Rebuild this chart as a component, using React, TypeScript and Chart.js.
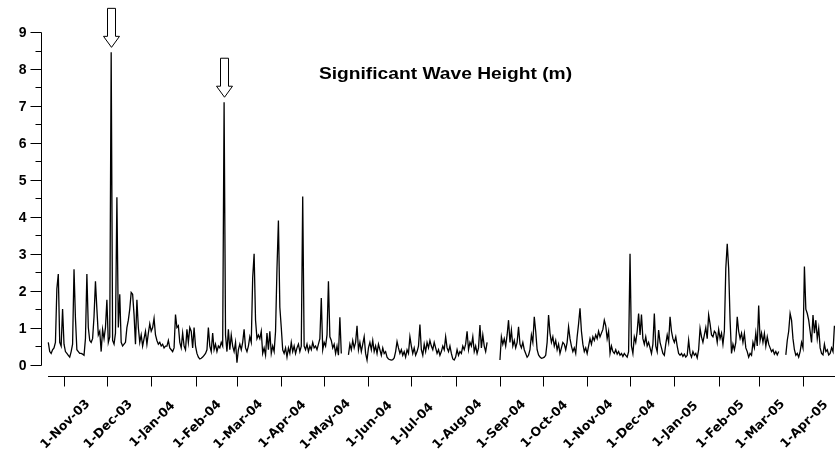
import React, { useEffect, useRef } from 'react';
import { Chart, registerables } from 'chart.js';

Chart.register(...registerables);

const TITLE = 'Significant Wave Height (m)';

const MONTH_DATES = [
  '2003-11-01', '2003-12-01', '2004-01-01', '2004-02-01', '2004-03-01', '2004-04-01',
  '2004-05-01', '2004-06-01', '2004-07-01', '2004-08-01', '2004-09-01', '2004-10-01',
  '2004-11-01', '2004-12-01', '2005-01-01', '2005-02-01', '2005-03-01', '2005-04-01',
];
const MONTH_LABELS = [
  '1-Nov-03', '1-Dec-03', '1-Jan-04', '1-Feb-04', '1-Mar-04', '1-Apr-04',
  '1-May-04', '1-Jun-04', '1-Jul-04', '1-Aug-04', '1-Sep-04', '1-Oct-04',
  '1-Nov-04', '1-Dec-04', '1-Jan-05', '1-Feb-05', '1-Mar-05', '1-Apr-05',
];
const Y_MAJOR = [0, 1, 2, 3, 4, 5, 6, 7, 8, 9];
const Y_MINOR = [0.5, 1.5, 2.5, 3.5, 4.5, 5.5, 6.5, 7.5, 8.5];

// daily significant wave height (m), one value per day from the start date
const SEG1_START = '2003-10-21';
const SEG1 = [
  0.6, 0.35, 0.3, 0.4, 0.45, 0.6, 2.05, 2.45, 0.6, 0.5,
  1.5, 0.55, 0.35, 0.3, 0.25, 0.2, 0.35, 0.55, 2.58, 1.25,
  0.4, 0.35, 0.3, 0.3, 0.28, 0.25, 0.7, 2.45, 1.0, 0.65,
  0.6, 0.7, 1.3, 2.25, 1.5, 0.8, 0.9, 0.35, 0.95, 0.7,
  1.0, 1.75, 0.6, 0.75, 8.45, 0.65, 0.55, 0.85, 4.53, 1.0,
  1.9, 0.6, 0.5, 0.55, 0.6, 1.0, 1.2, 1.5, 1.95, 1.9,
  1.35, 0.55, 1.75, 1.0, 0.6, 0.8, 0.5, 0.7, 0.9, 0.55,
  0.85, 1.1, 0.9, 1.0, 1.25, 0.8, 0.65, 0.55, 0.6, 0.5,
  0.55, 0.45, 0.5, 0.5, 0.65, 0.45, 0.4, 0.35, 0.45, 1.35,
  1.0, 1.05, 0.6, 0.45, 0.85, 0.5, 0.4, 0.95, 0.6, 1.0,
  0.9, 0.45, 1.0, 0.5, 0.3, 0.2, 0.15, 0.17, 0.2, 0.25,
  0.3, 0.4, 1.0, 0.5, 0.35, 0.85, 0.4, 0.55, 0.35, 0.5,
  0.45, 0.6, 0.5, 7.1, 0.8, 0.35, 0.95, 0.4, 0.8, 0.5,
  0.35, 0.6, 0.05, 0.4, 0.55, 0.4, 0.6, 0.95, 0.45, 0.35,
  0.5, 0.75, 0.6, 2.35, 3.0, 1.2, 0.7, 0.8, 0.7, 0.9,
  0.3, 0.45, 0.25, 0.85, 0.4, 0.9, 0.3, 0.5, 0.35, 0.9,
  2.6, 3.9, 1.55, 1.0, 0.4, 0.3, 0.45, 0.2, 0.45, 0.3,
  0.6, 0.35, 0.5, 0.3, 0.45, 0.55, 0.35, 0.5, 4.55, 0.5,
  0.4, 0.55, 0.35, 0.5, 0.4, 0.6, 0.45, 0.5, 0.4, 0.55,
  0.7, 1.8, 0.4, 0.6, 0.5, 0.8, 2.25, 0.75, 0.65, 0.45,
  0.55, 0.3, 0.5, 0.25, 1.28, 0.3,
];

const SEG2_START = '2004-05-18';
const SEG2 = [
  0.26, 0.55, 0.4, 0.65, 0.45, 0.6, 1.05, 0.4, 0.6, 0.35,
  0.55, 0.75, 0.3, 0.12, 0.45, 0.6, 0.4, 0.65, 0.35, 0.5,
  0.3, 0.55, 0.4, 0.25, 0.45, 0.3, 0.35, 0.2, 0.15, 0.13,
  0.12, 0.13, 0.18, 0.35, 0.62, 0.45, 0.3, 0.4, 0.25, 0.35,
  0.2, 0.4, 0.3, 0.75, 0.5, 0.3, 0.45, 0.25, 0.35, 0.5,
  1.08, 0.4, 0.25, 0.55, 0.35, 0.6, 0.45, 0.65, 0.5, 0.4,
  0.6, 0.45, 0.3, 0.4, 0.25, 0.35, 0.5, 0.4, 0.75, 0.45,
  0.35, 0.5, 0.3, 0.15, 0.12, 0.2, 0.4, 0.25, 0.35, 0.3,
  0.5, 0.4, 0.55, 0.9, 0.4, 0.6, 0.5, 0.75, 0.35, 0.5,
  0.3, 0.45, 1.07, 0.45, 0.8, 0.5, 0.35, 0.6,
];

const SEG3_START = '2004-09-01';
const SEG3 = [
  0.12, 0.75, 0.55, 0.7, 0.5, 0.8, 1.2, 0.6, 0.93, 0.5,
  0.65, 0.45, 0.6, 1.02, 0.55, 0.45, 0.6, 0.4, 0.3, 0.2,
  0.25, 0.4, 0.8, 0.6, 1.29, 0.9, 0.4, 0.26, 0.2, 0.17,
  0.18, 0.2, 0.25, 0.6, 1.34, 0.85, 0.6, 0.75, 0.5, 0.65,
  0.4, 0.55, 0.3, 0.45, 0.6, 0.55, 0.4, 0.6, 1.02, 0.7,
  0.5, 0.35, 0.45, 0.3, 0.75, 1.1, 1.52, 0.9, 0.55, 0.35,
  0.45, 0.3, 0.5, 0.7, 0.55, 0.75, 0.65, 0.8, 0.7, 0.9,
  0.75, 0.85, 0.95, 1.2, 1.05, 0.7, 0.9, 0.3, 0.5, 0.35,
  0.3, 0.4, 0.28, 0.35, 0.25, 0.3, 0.22, 0.3, 0.25, 0.2,
  0.35, 3.0, 0.5, 0.3, 0.75, 0.6, 0.9, 1.38, 0.8, 1.35,
  0.7, 0.55, 0.75, 0.5, 0.6, 0.45, 0.3, 0.55, 1.38, 0.5,
  0.35, 0.93, 0.6, 0.45, 0.3, 0.25, 0.55, 0.8, 0.6, 1.29,
  0.9, 0.7, 0.6, 0.75, 0.5, 0.3, 0.25, 0.3, 0.22, 0.28,
  0.2, 0.25, 0.66, 0.3, 0.2, 0.35, 0.25, 0.3, 0.18, 0.4,
  0.98, 0.75, 0.6, 0.8, 1.0, 0.7, 1.34, 1.1, 0.8, 0.75,
  0.9, 0.85, 0.6, 0.95, 0.7, 0.85, 0.55, 0.9, 2.6, 3.27,
  2.6, 1.2, 0.3, 0.55, 0.4, 0.6, 1.29, 0.9, 0.7, 0.85,
  0.6, 0.84, 0.45, 0.35, 0.2, 0.3, 0.25, 0.6, 0.45, 0.85,
  0.5, 1.6, 0.65, 0.85, 0.6, 0.84, 0.5, 0.75, 0.55, 0.45,
  0.35, 0.4, 0.28, 0.35, 0.26, 0.35,
];

const SEG4_START = '2005-03-20';
const SEG4 = [
  0.26, 0.65, 0.9, 1.38, 1.2, 0.7, 0.4, 0.25, 0.3, 0.2,
  0.35, 0.6, 0.45, 2.65, 1.5, 1.38, 1.2, 0.9, 0.6, 1.34,
  0.85, 1.2, 0.7, 0.98, 0.45, 0.3, 0.26, 0.55, 0.35, 0.4,
  0.26, 0.3, 0.45, 0.35, 1.05,
];

const ARROW_DATES = ['2003-12-04', '2004-02-21'];

const ORIGIN = Date.UTC(2003, 10, 1);
const dayOf = (s: string) => (Date.parse(s + 'T00:00:00Z') - ORIGIN) / 86400000;

function buildData() {
  const segs: [string, number[]][] = [
    [SEG1_START, SEG1], [SEG2_START, SEG2], [SEG3_START, SEG3], [SEG4_START, SEG4],
  ];
  const pts: { x: number; y: number | null }[] = [];
  segs.forEach(([start, vals], i) => {
    const d0 = dayOf(start);
    if (i > 0) pts.push({ x: d0 - 1, y: null });
    vals.forEach((v, k) => pts.push({ x: d0 + k, y: v }));
  });
  return pts;
}

const FONT_Y = 'bold 14px "Liberation Sans", Arial, sans-serif';
const FONT_X = 'bold 12.5px "DejaVu Sans", sans-serif';
const FONT_TITLE = 'bold 16px "Liberation Sans", Arial, sans-serif';

const decorations = {
  id: 'decorations',
  afterDraw(chart: any) {
    const { ctx, chartArea } = chart;
    const xs = chart.scales.x;
    const ys = chart.scales.y;
    const data = chart.data.datasets[0].data as { x: number; y: number | null }[];
    ctx.save();
    ctx.strokeStyle = '#000';
    ctx.fillStyle = '#000';
    ctx.lineWidth = 1;

    // Y axis
    const ax = chartArea.left - 0.5;
    ctx.beginPath();
    ctx.moveTo(ax, Math.round(ys.getPixelForValue(Y_MAJOR[Y_MAJOR.length - 1])) + 0.5);
    ctx.lineTo(ax, Math.round(ys.getPixelForValue(0)) + 0.5);
    ctx.stroke();
    ctx.font = FONT_Y;
    ctx.textAlign = 'right';
    ctx.textBaseline = 'middle';
    ys.ticks.forEach((t: any) => {
      const py = Math.round(ys.getPixelForValue(t.value)) + 0.5;
      const major = Number.isInteger(t.value);
      ctx.beginPath();
      ctx.moveTo(ax - (major ? 11 : 6), py);
      ctx.lineTo(ax, py);
      ctx.stroke();
      if (major) ctx.fillText(String(t.value), ax - 15, py + 0.5);
    });

    // X axis
    const by = chartArea.bottom + 0.5;
    ctx.beginPath();
    ctx.moveTo(Math.round(xs.getPixelForValue(data[0].x)), by);
    ctx.lineTo(chartArea.right, by);
    ctx.stroke();
    ctx.font = FONT_X;
    ctx.textAlign = 'center';
    ctx.textBaseline = 'middle';
    xs.ticks.forEach((t: any, i: number) => {
      const px = Math.round(xs.getPixelForValue(t.value)) + 0.5;
      ctx.beginPath();
      ctx.moveTo(px, by);
      ctx.lineTo(px, by + 10);
      ctx.stroke();
      ctx.save();
      ctx.translate(px + 1, by + 48);
      ctx.rotate(-Math.PI / 4);
      ctx.fillText(MONTH_LABELS[i], 0, 0);
      ctx.restore();
    });

    // Title
    ctx.save();
    ctx.font = FONT_TITLE;
    ctx.textAlign = 'center';
    ctx.textBaseline = 'alphabetic';
    ctx.translate(445.5, 79);
    ctx.scale(1.2, 1);
    ctx.fillText(TITLE, 0, 0);
    ctx.restore();

    // Arrows over the two storm peaks
    ARROW_DATES.forEach((ds) => {
      const d = dayOf(ds);
      const p = data.find((q) => q.x === d);
      if (!p || p.y == null) return;
      const px = Math.round(xs.getPixelForValue(d)) + 0.5;
      const tip = ys.getPixelForValue(p.y) - 5;
      const top = tip - 39;
      const headTop = tip - 11;
      ctx.beginPath();
      ctx.moveTo(px - 4, top);
      ctx.lineTo(px - 4, headTop);
      ctx.lineTo(px - 8, headTop);
      ctx.lineTo(px, tip);
      ctx.lineTo(px + 8, headTop);
      ctx.lineTo(px + 4, headTop);
      ctx.lineTo(px + 4, top);
      ctx.closePath();
      ctx.fillStyle = '#fff';
      ctx.fill();
      ctx.strokeStyle = '#000';
      ctx.stroke();
    });
    ctx.restore();
  },
};

export default function App() {
  const ref = useRef<HTMLCanvasElement | null>(null);
  useEffect(() => {
    if (!ref.current) return;
    const monthDays = MONTH_DATES.map(dayOf);
    const yTicks = [...Y_MAJOR, ...Y_MINOR].sort((a, b) => a - b);
    const chart = new Chart(ref.current, {
      type: 'line',
      data: {
        datasets: [
          {
            data: buildData(),
            borderColor: '#000',
            borderWidth: 1.3,
            pointRadius: 0,
            tension: 0,
            spanGaps: false,
            fill: false,
          },
        ],
      },
      options: {
        responsive: false,
        animation: false,
        layout: { padding: 0 },
        plugins: { legend: { display: false }, title: { display: false }, tooltip: { enabled: false } },
        scales: {
          x: {
            type: 'linear',
            min: -15.4,
            max: 539.4,
            grid: { display: false },
            border: { display: false },
            ticks: { display: false },
            afterBuildTicks: (s: any) => {
              s.ticks = monthDays.map((v) => ({ value: v }));
            },
            afterFit: (s: any) => {
              s.height = 78;
            },
          },
          y: {
            min: -0.311,
            max: 9.867,
            grid: { display: false },
            border: { display: false },
            ticks: { display: false },
            afterBuildTicks: (s: any) => {
              s.ticks = yTicks.map((v) => ({ value: v }));
            },
            afterFit: (s: any) => {
              s.width = 42;
            },
          },
        },
      },
      plugins: [decorations],
    });
    return () => chart.destroy();
  }, []);
  return (
    <div style={{ position: 'absolute', left: 0, top: 0, width: 835, height: 454, background: '#fff' }}>
      <canvas ref={ref} width={835} height={454} style={{ display: 'block' }} />
    </div>
  );
}
